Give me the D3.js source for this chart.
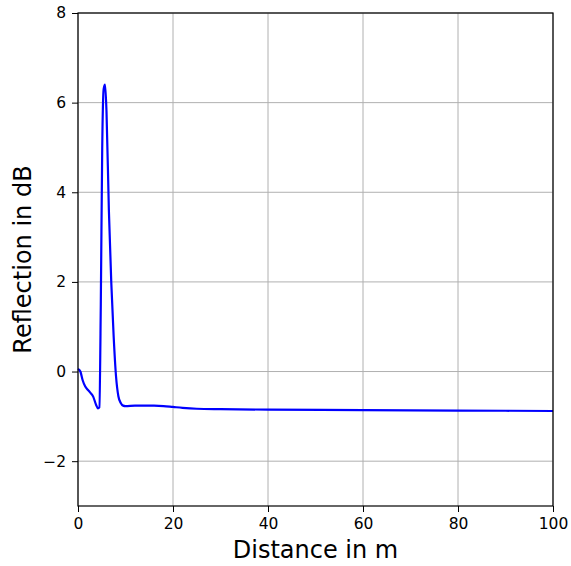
<!DOCTYPE html>
<html>
<head>
<meta charset="utf-8">
<script src="https://cdn.jsdelivr.net/npm/d3@7"></script>
<style>
  body { margin: 0; background: #fff; }
  text { font-family: "DejaVu Sans", sans-serif; }
</style>
</head>
<body>
<svg id="chart" width="571" height="566"></svg>
<script>
const distance = [0, 0.5, 1, 1.5, 2, 2.5, 3.2, 3.8, 4.2, 4.5, 4.8, 5.1, 5.4, 5.7, 6.0, 6.5, 7.0, 7.5, 8.0, 8.5, 9.0, 9.5, 10, 12, 16, 18, 20, 22, 25, 30, 40, 60, 80, 100];
const reflection = [0.06, 0.0, -0.2, -0.33, -0.4, -0.46, -0.56, -0.74, -0.82, -0.8, 1.5, 5.0, 6.3, 6.4, 5.8, 3.6, 2.0, 0.8, -0.1, -0.55, -0.7, -0.76, -0.77, -0.76, -0.76, -0.77, -0.79, -0.81, -0.83, -0.84, -0.85, -0.86, -0.87, -0.88];
const xTicks = [0, 20, 40, 60, 80, 100];
const yTicks = [-2, 0, 2, 4, 6, 8];

const margin = { left: 78, right: 18, top: 13, bottom: 60 };
const width = 571, height = 566;
const svg = d3.select("#chart");

const x = d3.scaleLinear().domain([0, 100]).range([margin.left, width - margin.right]);
const y = d3.scaleLinear().domain([-3, 8]).range([height - margin.bottom, margin.top]);

const data = distance.map((d, i) => [d, reflection[i]]);

// grid
svg.append("g")
  .selectAll("line")
  .data(xTicks)
  .join("line")
  .attr("x1", (d) => x(d)).attr("x2", (d) => x(d))
  .attr("y1", y(-3)).attr("y2", y(8))
  .attr("stroke", "#b0b0b0").attr("stroke-width", 1);

svg.append("g")
  .selectAll("line")
  .data(yTicks)
  .join("line")
  .attr("y1", (d) => y(d)).attr("y2", (d) => y(d))
  .attr("x1", x(0)).attr("x2", x(100))
  .attr("stroke", "#b0b0b0").attr("stroke-width", 1);

// line
svg.append("path")
  .datum(data)
  .attr("fill", "none")
  .attr("stroke", "#0000ff")
  .attr("stroke-width", 2.2)
  .attr("stroke-linejoin", "round")
  .attr("d", d3.line().x((d) => x(d[0])).y((d) => y(d[1])).curve(d3.curveMonotoneX));

// axes
const xAxis = svg.append("g")
  .attr("transform", `translate(0,${y(-3)})`)
  .call(d3.axisBottom(x).tickValues(xTicks).tickSize(6).tickPadding(6));
const yAxis = svg.append("g")
  .attr("transform", `translate(${x(0)},0)`)
  .call(d3.axisLeft(y).tickValues(yTicks).tickSize(6).tickPadding(6).tickFormat((d) => d < 0 ? "\u2212" + Math.abs(d) : d));

[xAxis, yAxis].forEach((g) => {
  g.selectAll("text").attr("font-size", 15.5).attr("font-family", "DejaVu Sans, sans-serif").attr("fill", "#000");
  g.select(".domain").remove();
  g.selectAll(".tick line").attr("stroke", "#000");
});

// frame
svg.append("rect")
  .attr("x", x(0)).attr("y", y(8))
  .attr("width", x(100) - x(0)).attr("height", y(-3) - y(8))
  .attr("fill", "none").attr("stroke", "#000").attr("stroke-width", 1.2);

// labels
svg.append("text")
  .attr("x", (x(0) + x(100)) / 2)
  .attr("y", 558)
  .attr("text-anchor", "middle")
  .attr("font-size", 24)
  .text("Distance in m");

svg.append("text")
  .attr("transform", `translate(31,${(y(-3) + y(8)) / 2}) rotate(-90)`)
  .attr("text-anchor", "middle")
  .attr("font-size", 24)
  .text("Reflection in dB");
</script>
</body>
</html>
